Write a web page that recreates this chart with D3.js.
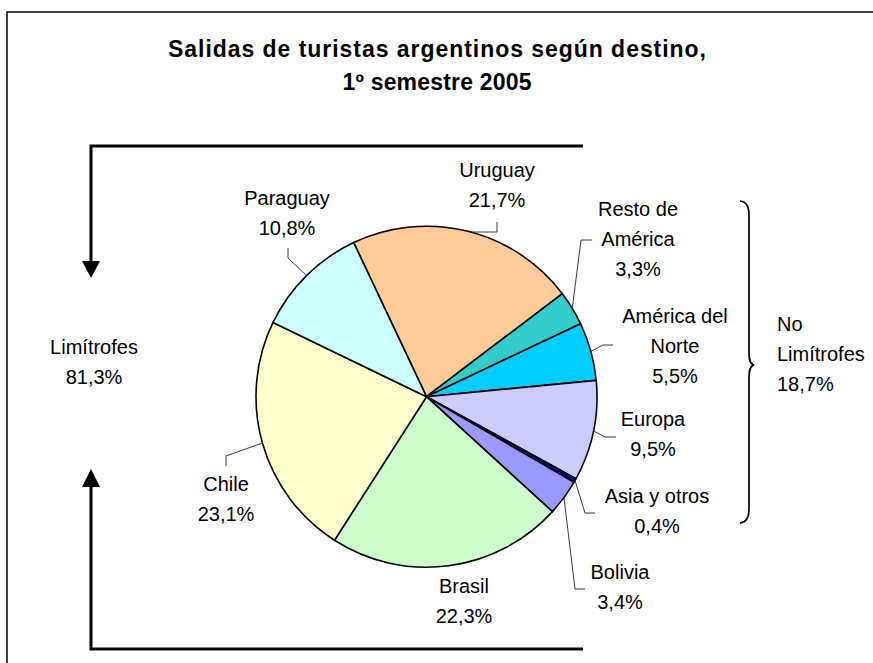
<!DOCTYPE html>
<html>
<head>
<meta charset="utf-8">
<script src="https://cdn.jsdelivr.net/npm/d3@7"></script>
<style>
  html, body { margin: 0; padding: 0; background: #fff; }
  svg { display: block; }
  text { font-family: "Liberation Sans", Arial, sans-serif; fill: #000; }
</style>
</head>
<body>
<svg id="chart" width="873" height="663"></svg>
<script>
// ---- data ----
const categories = ["Uruguay", "Resto de América", "América del Norte", "Europa", "Asia y otros", "Bolivia", "Brasil", "Chile", "Paraguay"];
const values = [21.7, 3.3, 5.5, 9.5, 0.4, 3.4, 22.3, 23.1, 10.8];
const labelLines = [
  ["Uruguay", "21,7%"],
  ["Resto de", "América", "3,3%"],
  ["América del", "Norte", "5,5%"],
  ["Europa", "9,5%"],
  ["Asia y otros", "0,4%"],
  ["Bolivia", "3,4%"],
  ["Brasil", "22,3%"],
  ["Chile", "23,1%"],
  ["Paraguay", "10,8%"]
];
const titleLines = ["Salidas de turistas argentinos según destino,", "1º semestre 2005"];
const groupLeft = ["Limítrofes", "81,3%"];
const groupRight = ["No", "Limítrofes", "18,7%"];

// ---- styles / layout ----
const colors = ["#FFCC99", "#33CCCC", "#00CCFF", "#CCCCFF", "#000080", "#9999FF", "#CCFFCC", "#FFFFCC", "#CCFFFF"];
const cx = 426.5, cy = 396.7, R = 170.5;
const startDeg = -25.3;
// label placement (center x, first line center y) and leader elbows
const labelLayout = [
  {x: 497, y: 170, leader: [[497, 222], [497, 232]], attach: "horizontal"},
  {x: 638, y: 209, leader: [[592, 240], [581, 240]]},
  {x: 675, y: 316, leader: [[613, 345], [603, 345]]},
  {x: 653, y: 419, leader: [[616, 437], [605, 437]]},
  {x: 657, y: 496, leader: [[595, 513], [585, 513]]},
  {x: 620, y: 572, leader: [[585, 589], [575, 589]]},
  {x: 464, y: 586, leader: null},
  {x: 226, y: 484, leader: [[226, 466], [226, 456]]},
  {x: 287, y: 198, leader: [[288, 248], [288, 258]]}
];
const lineH = 30;

const svg = d3.select("#chart");

// frame
svg.append("path").attr("d", "M7,663 L7,12 L873,12")
  .attr("fill", "none").attr("stroke", "#000").attr("stroke-width", 1.5);

// title
titleLines.forEach((t, i) => {
  svg.append("text")
    .attr("x", 437).attr("y", 57 + i * 33)
    .attr("text-anchor", "middle")
    .attr("font-size", 23).attr("font-weight", "bold")
    .attr("textLength", i === 0 ? 538 : 189).attr("lengthAdjust", "spacing")
    .text(t);
});

// pie
const pie = d3.pie().sort(null).value(d => d)
  .startAngle(startDeg * Math.PI / 180)
  .endAngle(startDeg * Math.PI / 180 + 2 * Math.PI);
const arcs = pie(values);
const arc = d3.arc().innerRadius(0).outerRadius(R);
const g = svg.append("g").attr("transform", `translate(${cx},${cy})`);
g.selectAll("path.slice").data(arcs).join("path")
  .attr("class", "slice")
  .attr("d", arc)
  .attr("fill", (d, i) => colors[i])
  .attr("stroke", "#000").attr("stroke-width", 1.6)
  .attr("stroke-linejoin", "round");

// labels + leaders
arcs.forEach((a, i) => {
  const L = labelLayout[i];
  if (L.leader) {
    const pts = L.leader.slice();
    const last = pts[pts.length - 1];
    let px, py;
    if (L.attach === "horizontal") {
      // horizontal leader meets the arc at the elbow's height
      const yy = last[1] - cy;
      px = cx + Math.sqrt(Math.max(0, R * R - yy * yy));
      py = last[1];
    } else {
      const mid = (a.startAngle + a.endAngle) / 2;
      px = cx + R * Math.sin(mid); py = cy - R * Math.cos(mid);
    }
    pts.push([px, py]);
    svg.append("path")
      .attr("d", d3.line()(pts))
      .attr("fill", "none").attr("stroke", "#222").attr("stroke-width", 0.9);
  }
  labelLines[i].forEach((t, j) => {
    svg.append("text")
      .attr("x", L.x).attr("y", L.y + j * lineH)
      .attr("dy", "0.36em")
      .attr("text-anchor", "middle")
      .attr("font-size", 20)
      .text(t);
  });
});

// group arrows (Limítrofes)
const ax = 91;
svg.append("path").attr("d", `M${ax},262 L${ax},146 L583,146`)
  .attr("fill", "none").attr("stroke", "#000").attr("stroke-width", 3);
svg.append("path").attr("d", `M${ax - 9},261 L${ax + 9},261 L${ax},278 Z`).attr("fill", "#000");
svg.append("path").attr("d", `M${ax},487 L${ax},649 L583,649`)
  .attr("fill", "none").attr("stroke", "#000").attr("stroke-width", 3);
svg.append("path").attr("d", `M${ax - 9},487 L${ax + 9},487 L${ax},469 Z`).attr("fill", "#000");
groupLeft.forEach((t, j) => {
  svg.append("text").attr("x", 94).attr("y", 347 + j * 30).attr("dy", "0.36em")
    .attr("text-anchor", "middle").attr("font-size", 20).text(t);
});

// brace (No Limítrofes)
svg.append("path")
  .attr("d", "M740,201 C747,202 749,207 749,216 L749,352 C749,360 750,364 754,365 C750,366 749,370 749,378 L749,508 C749,517 747,522 740,523")
  .attr("fill", "none").attr("stroke", "#000").attr("stroke-width", 1.7);
groupRight.forEach((t, j) => {
  svg.append("text").attr("x", 777).attr("y", 324 + j * 30).attr("dy", "0.36em")
    .attr("text-anchor", "start").attr("font-size", 20).text(t);
});
</script>
</body>
</html>
